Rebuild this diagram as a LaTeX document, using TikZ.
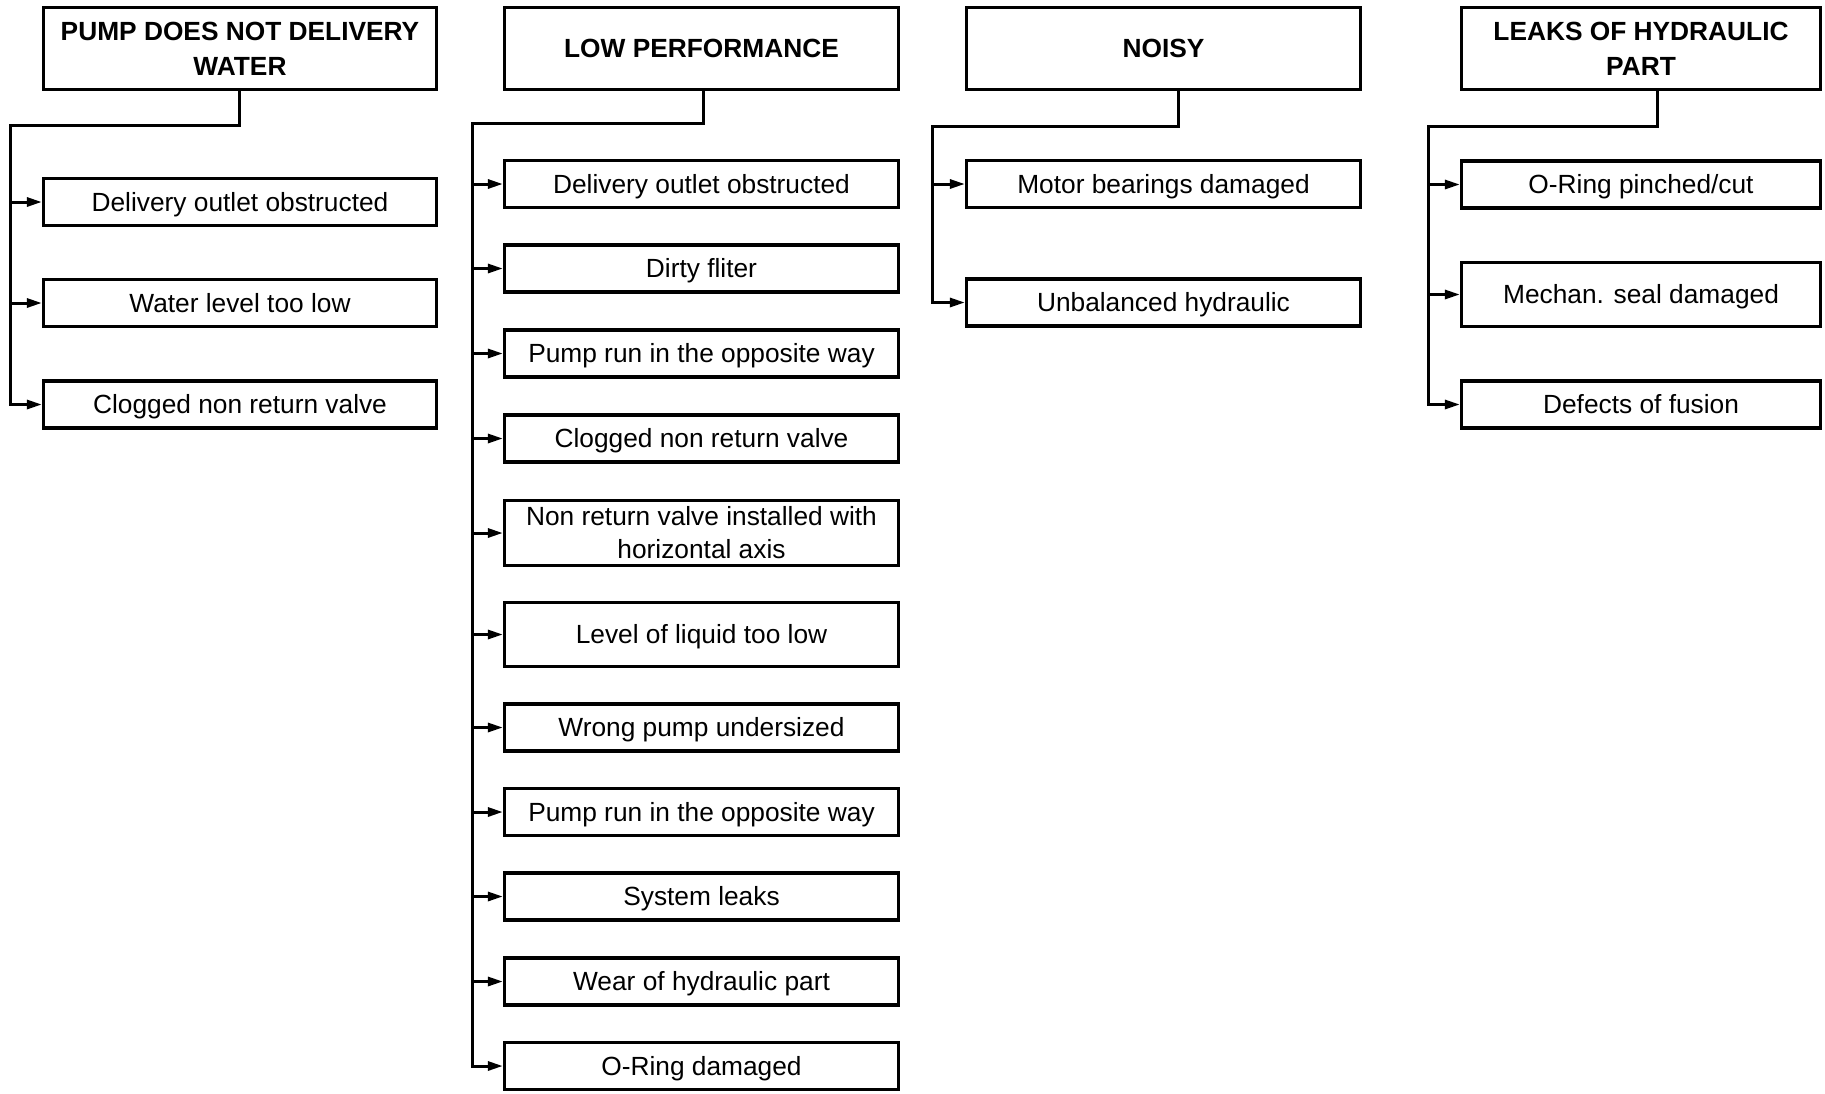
\documentclass[tikz,border=0pt]{standalone}
\usepackage{fontspec}
\setmainfont{Liberation Sans}
\usetikzlibrary{arrows.meta}
\begin{document}
\begin{tikzpicture}[x=1pt,y=-1pt,
  box/.style={draw, line width=3.3pt, inner sep=0pt, align=center, font=\fontsize{26.3}{33}\selectfont},
  hbox/.style={box, minimum height=82pt, font=\fontsize{26.3}{35}\selectfont\bfseries},
  cbox/.style={box, minimum height=47pt},
  oneline/.style={text height=18.8pt, text depth=0pt},
  tallbox/.style={minimum height=65pt},
  colA/.style={minimum width=393pt},
  colB/.style={minimum width=394pt},
  colC/.style={minimum width=394pt},
  colD/.style={minimum width=359pt},
  conn/.style={line width=3pt},
  arr/.style={conn, -{Triangle[length=15pt,width=9pt]}}
]
\useasboundingbox (0,0) rectangle (1825,1093);

% ---- column 1
\node[hbox,colA] (h1) at (240,48.5) {PUMP DOES NOT DELIVERY\\WATER};
\node[cbox,colA,oneline] (a1) at (240,202) {Delivery outlet obstructed};
\node[cbox,colA,oneline] (a2) at (240,303) {Water level too low};
\node[cbox,colA,oneline] (a3) at (240,404.5) {Clogged non return valve};
\coordinate (j1) at (10.5,125.7);
\draw[arr] ([xshift=-1pt]h1.south) |- (j1) |- (a3.west);
\foreach \n in {a1,a2} \draw[arr] (j1 |- \n.west) -- (\n.west);

% ---- column 2
\node[hbox,colB] (h2) at (701.5,48.5) {LOW PERFORMANCE};
\node[cbox,colB,oneline] (b1) at (701.5,184) {Delivery outlet obstructed};
\node[cbox,colB,oneline] (b2) at (701.5,268.5) {Dirty fliter};
\node[cbox,colB,oneline] (b3) at (701.5,353.5) {Pump run in the opposite way};
\node[cbox,colB,oneline] (b4) at (701.5,438.5) {Clogged non return valve};
\node[cbox,colB,tallbox] (b5) at (701.5,533) {Non return valve installed with\\horizontal axis};
\node[cbox,colB,oneline,minimum height=64pt] (b6) at (701.5,634.5) {Level of liquid too low};
\node[cbox,colB,oneline] (b7) at (701.5,727.5) {Wrong pump undersized};
\node[cbox,colB,oneline] (b8) at (701.5,812) {Pump run in the opposite way};
\node[cbox,colB,oneline] (b9) at (701.5,896.5) {System leaks};
\node[cbox,colB,oneline] (b10) at (701.5,981.5) {Wear of hydraulic part};
\node[cbox,colB,oneline] (b11) at (701.5,1066) {O-Ring damaged};
\coordinate (j2) at (472,123);
\draw[arr] ([xshift=1.5pt]h2.south) |- (j2) |- (b11.west);
\foreach \n in {b1,b2,b3,b4,b5,b6,b7,b8,b9,b10} \draw[arr] (j2 |- \n.west) -- (\n.west);

% ---- column 3
\node[hbox,colC] (h3) at (1163.5,48.5) {NOISY};
\node[cbox,colC,oneline] (c1) at (1163.5,184) {Motor bearings damaged};
\node[cbox,colC,oneline] (c2) at (1163.5,302.5) {Unbalanced hydraulic};
\coordinate (j3) at (932,126);
\draw[arr] ([xshift=14.5pt]h3.south) |- (j3) |- (c2.west);
\draw[arr] (j3 |- c1.west) -- (c1.west);

% ---- column 4
\node[hbox,colD] (h4) at (1641,48.5) {LEAKS OF HYDRAULIC\\PART};
\node[cbox,colD,oneline] (d1) at (1641,184.5) {O-Ring pinched/cut};
\node[cbox,colD,oneline,minimum height=64pt] (d2) at (1641,294.5) {Mechan. seal damaged};
\node[cbox,colD,oneline] (d3) at (1641,404.5) {Defects of fusion};
\coordinate (j4) at (1428,126);
\draw[arr] ([xshift=16pt]h4.south) |- (j4) |- (d3.west);
\foreach \n in {d1,d2} \draw[arr] (j4 |- \n.west) -- (\n.west);
\end{tikzpicture}
\end{document}
